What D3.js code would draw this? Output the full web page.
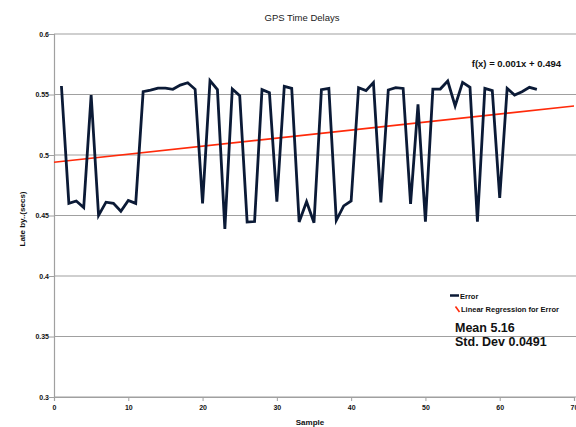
<!DOCTYPE html>
<html>
<head>
<meta charset="utf-8">
<script src="https://cdn.jsdelivr.net/npm/d3@7"></script>
<style>
  html, body { margin: 0; padding: 0; background: #fff; }
  svg { display: block; }
  text { font-family: "Liberation Sans Narrow", "Liberation Sans", Arial, sans-serif; }
</style>
</head>
<body>
<svg id="chart" width="576" height="427"></svg>
<script>
// ---- Data ----
const samples = d3.range(1, 66);
const errorValues = [
  0.557, 0.460, 0.462, 0.4565, 0.5496, 0.450, 0.461, 0.460, 0.4535, 0.4625,
  0.460, 0.5523, 0.5537, 0.5553, 0.5553, 0.5543, 0.5578, 0.5597, 0.5543, 0.460,
  0.5614, 0.554, 0.4389, 0.5545, 0.549, 0.4446, 0.445, 0.554, 0.5515, 0.4614,
  0.5567, 0.555, 0.4446, 0.4614, 0.444, 0.554, 0.555, 0.446, 0.4579, 0.462,
  0.5556, 0.5532, 0.5598, 0.4609, 0.5537, 0.5556, 0.555, 0.4595, 0.5419, 0.4449,
  0.5545, 0.5545, 0.5611, 0.5405, 0.560, 0.5559, 0.4449, 0.555, 0.5532, 0.4645,
  0.555, 0.5496, 0.5523, 0.5559, 0.5543
];
const regression = { slope: 0.000665, intercept: 0.494 };
const xTicks = [0, 10, 20, 30, 40, 50, 60, 70];
const yTicks = [0.3, 0.35, 0.4, 0.45, 0.5, 0.55, 0.6];
const title = "GPS Time Delays";
const xLabel = "Sample";
const yLabel = "Late by..(secs)";
const equationText = "f(x) = 0.001x + 0.494";
const legendItems = ["Error", "Linear Regression for Error"];
const statsLines = ["Mean 5.16", "Std. Dev 0.0491"];

// ---- Layout ----
const svg = d3.select("#chart");
const mLeft = 54, mRight = 574, mTop = 34, mBottom = 397;

const x = d3.scaleLinear().domain([0, 70]).range([mLeft, mRight]);
const y = d3.scaleLinear().domain([0.3, 0.6]).range([mBottom, mTop]);

// gridlines
svg.append("g").selectAll("line").data(yTicks).join("line")
  .attr("x1", mLeft).attr("x2", 576)
  .attr("y1", d => y(d)).attr("y2", d => y(d))
  .attr("stroke", "#a0a0a0").attr("stroke-width", 1.2);

// y axis
const yAxis = svg.append("g").attr("transform", `translate(${mLeft},0)`)
  .call(d3.axisLeft(y).tickValues(yTicks).tickSize(5).tickFormat(d => String(+d.toFixed(2))));
yAxis.select(".domain").attr("stroke", "#a0a0a0").attr("stroke-width", 1.2);
yAxis.selectAll(".tick line").attr("stroke", "#a0a0a0");
yAxis.selectAll(".tick text").attr("font-size", 7).attr("font-weight", "bold")
  .attr("fill", "#111").attr("x", -5)
  .style("font-family", '"Liberation Sans Narrow", "Liberation Sans", Arial, sans-serif');

// x axis
const xAxis = svg.append("g").attr("transform", `translate(0,${mBottom})`)
  .call(d3.axisBottom(x).tickValues(xTicks).tickSize(4).tickFormat(d3.format("d")));
xAxis.select(".domain").attr("stroke", "#a0a0a0").attr("stroke-width", 1.2);
xAxis.selectAll(".tick line").attr("stroke", "#a0a0a0");
xAxis.selectAll(".tick text").attr("font-size", 7).attr("font-weight", "bold")
  .attr("fill", "#111").attr("y", 8)
  .style("font-family", '"Liberation Sans Narrow", "Liberation Sans", Arial, sans-serif');

// regression line
svg.append("line")
  .attr("x1", x(0)).attr("y1", y(regression.intercept))
  .attr("x2", x(70)).attr("y2", y(regression.intercept + regression.slope * 70))
  .attr("stroke", "#ff2a0a").attr("stroke-width", 1.6);

// data line
const line = d3.line().x((d, i) => x(samples[i])).y(d => y(d));
svg.append("path").datum(errorValues)
  .attr("d", line)
  .attr("fill", "none").attr("stroke", "#0b1a36").attr("stroke-width", 2.8)
  .attr("stroke-linejoin", "miter");

// title
svg.append("text").attr("x", 302).attr("y", 21).attr("text-anchor", "middle")
  .attr("font-size", 9.5).attr("fill", "#222").text(title);

// axis labels
svg.append("text").attr("x", 310).attr("y", 425).attr("text-anchor", "middle")
  .attr("font-size", 8).attr("font-weight", "bold").attr("fill", "#111").text(xLabel);
svg.append("text").attr("transform", "translate(25,219) rotate(-90)")
  .attr("text-anchor", "middle").attr("font-size", 8).attr("font-weight", "bold")
  .attr("fill", "#111").text(yLabel);

// equation
svg.append("text").attr("x", 561).attr("y", 67).attr("text-anchor", "end")
  .attr("font-size", 9.5).attr("font-weight", "bold").attr("fill", "#111").text(equationText);

// legend
const lg = svg.append("g");
lg.append("line").attr("x1", 450).attr("x2", 459).attr("y1", 295.5).attr("y2", 295.5)
  .attr("stroke", "#0b1a36").attr("stroke-width", 2.5);
lg.append("text").attr("x", 460).attr("y", 298.5).attr("font-size", 7.5)
  .attr("font-weight", "bold").attr("fill", "#111").text(legendItems[0]);
lg.append("line").attr("x1", 455.5).attr("x2", 459.5).attr("y1", 306.5).attr("y2", 312)
  .attr("stroke", "#ff2a0a").attr("stroke-width", 1.6);
lg.append("text").attr("x", 461).attr("y", 312).attr("font-size", 7.5)
  .attr("font-weight", "bold").attr("fill", "#111").text(legendItems[1]);

// stats
svg.append("text").attr("x", 455).attr("y", 332).attr("font-size", 12.5)
  .attr("font-weight", "bold").attr("fill", "#111")
  .style("font-family", '"Liberation Sans", Arial, sans-serif').text(statsLines[0]);
svg.append("text").attr("x", 455).attr("y", 346).attr("font-size", 12.5)
  .attr("font-weight", "bold").attr("fill", "#111")
  .style("font-family", '"Liberation Sans", Arial, sans-serif').text(statsLines[1]);
</script>
</body>
</html>
